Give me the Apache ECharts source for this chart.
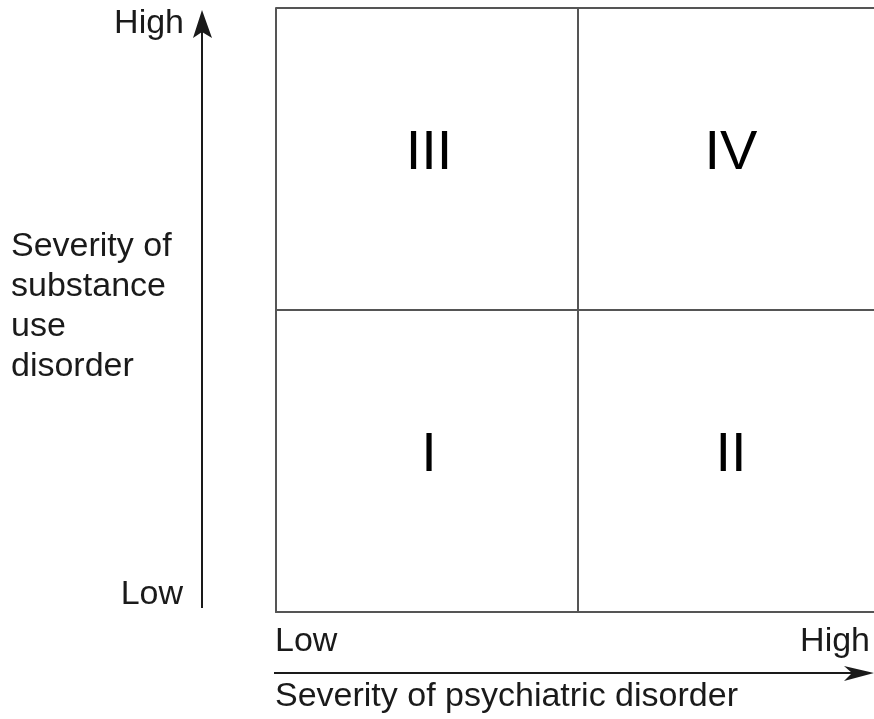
<!DOCTYPE html>
<html>
<head>
<meta charset="utf-8">
<script src="https://cdn.jsdelivr.net/npm/echarts@6/dist/echarts.min.js"></script>
<style>
    html, body { margin: 0; padding: 0; background: #fff; }
    #chart { width: 874px; height: 719px; }
</style>
</head>
<body>
<div id="chart"></div>
<script>
// quadrant labels and where they sit (axis units, 0..2 each way)
const quadrantNames = ['I', 'II', 'III', 'IV'];
const quadrantX = [0.5, 1.5, 0.5, 1.5];
const quadrantY = [0.5, 0.5, 1.5, 1.5];
const xEndLabels = ['Low', 'High'];
const yEndLabels = ['Low', 'High'];
const xTitle = 'Severity of psychiatric disorder';
const yTitle = ['Severity of', 'substance', 'use', 'disorder'];

const font = '"Liberation Sans", Arial, Helvetica, sans-serif', ink = '#1a1a1a', lineCol = '#555';
const txt = '34px ' + font;

var chart = echarts.init(document.getElementById('chart'), null, {renderer: 'canvas'});

var pts = quadrantNames.map(function (n, i) {
    return {name: n, value: [quadrantX[i], quadrantY[i]]};
});

chart.setOption({
    animation: false,
    // box runs past the right edge of the picture, like the original
    grid: {left: 276, top: 8, width: 604, height: 604, outerBoundsMode: 'none', containLabel: false},
    xAxis: {
        type: 'value', min: 0, max: 2, interval: 1,
        axisLine: {show: true, lineStyle: {color: lineCol, width: 2}},
        axisTick: {show: false},
        axisLabel: {show: false},
        splitLine: {show: true, lineStyle: {color: lineCol, width: 2, type: 'solid'}}
    },
    yAxis: {
        type: 'value', min: 0, max: 2, interval: 1,
        axisLine: {show: true, lineStyle: {color: lineCol, width: 2}},
        axisTick: {show: false},
        axisLabel: {show: false},
        splitLine: {show: true, lineStyle: {color: lineCol, width: 2, type: 'solid'}}
    },
    series: [{
        type: 'scatter',
        symbolSize: 1,
        itemStyle: {color: '#fff', opacity: 1},
        data: pts,
        label: {
            show: true,
            position: 'inside',
            offset: [2, -5],
            formatter: '{b}',
            fontFamily: font,
            fontSize: 56,
            color: '#000',
            opacity: 1,
            textBorderWidth: 0
        }
    }],
    graphic: [
        // vertical arrow
        {type: 'line', shape: {x1: 202, y1: 608, x2: 202, y2: 30}, style: {stroke: ink, lineWidth: 2}},
        {type: 'polygon', shape: {points: [[202, 10], [212, 38], [202, 32], [193, 38]]}, style: {fill: ink}},
        // horizontal arrow
        {type: 'line', shape: {x1: 274, y1: 673, x2: 860, y2: 673}, style: {stroke: ink, lineWidth: 2}},
        {type: 'polygon', shape: {points: [[874, 673], [844, 666], [852, 673], [844, 681]]}, style: {fill: ink}},
        // end labels
        {type: 'text', x: 184, y: 24, style: {text: yEndLabels[1], font: txt, fill: ink, align: 'right', verticalAlign: 'middle'}},
        {type: 'text', x: 183, y: 595, style: {text: yEndLabels[0], font: txt, fill: ink, align: 'right', verticalAlign: 'middle'}},
        {type: 'text', x: 275, y: 642, style: {text: xEndLabels[0], font: txt, fill: ink, align: 'left', verticalAlign: 'middle'}},
        {type: 'text', x: 870, y: 642, style: {text: xEndLabels[1], font: txt, fill: ink, align: 'right', verticalAlign: 'middle'}},
        // titles
        {type: 'text', x: 275, y: 697, style: {text: xTitle, font: txt, fill: ink, align: 'left', verticalAlign: 'middle'}},
        {type: 'text', x: 11, y: 227, style: {text: yTitle.join('\n'), font: txt, lineHeight: 40, fill: ink, align: 'left', verticalAlign: 'top'}}
    ]
});
</script>
</body>
</html>
